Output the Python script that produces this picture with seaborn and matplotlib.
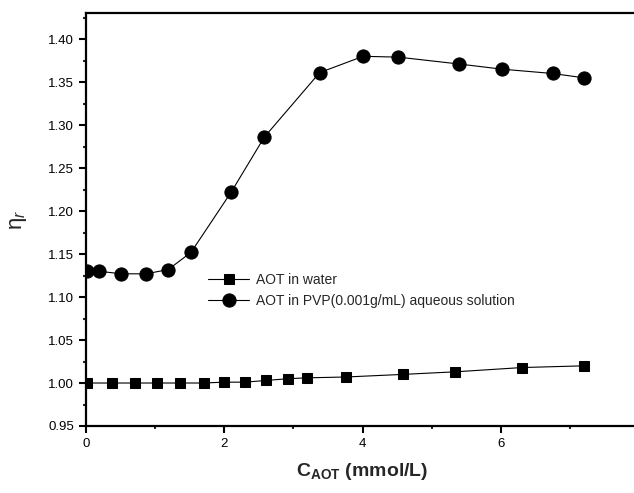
import matplotlib
matplotlib.use("Agg")
import matplotlib.pyplot as plt
import seaborn as sns
import pandas as pd
from matplotlib.ticker import MultipleLocator

water_x = [0.02, 0.37, 0.71, 1.03, 1.36, 1.70, 2.00, 2.30, 2.61, 2.92, 3.19, 3.76, 4.58, 5.34, 6.31, 7.21]
water_y = [1.000, 1.000, 1.000, 1.000, 1.000, 1.000, 1.001, 1.001, 1.003, 1.005, 1.006, 1.007, 1.010, 1.013, 1.018, 1.020]

pvp_x = [0.02, 0.19, 0.51, 0.87, 1.19, 1.52, 2.10, 2.58, 3.38, 4.01, 4.52, 5.40, 6.02, 6.75, 7.20]
pvp_y = [1.130, 1.130, 1.127, 1.127, 1.132, 1.152, 1.222, 1.286, 1.361, 1.380, 1.379, 1.371, 1.365, 1.360, 1.355]

labels = ["AOT in water", "AOT in PVP(0.001g/mL) aqueous solution"]

sns.set_style("ticks")
plt.rcParams['font.family'] = ['Liberation Sans', 'DejaVu Sans']
plt.rcParams['mathtext.fontset'] = 'custom'
plt.rcParams['mathtext.rm'] = 'Liberation Sans'
plt.rcParams['mathtext.it'] = 'Liberation Sans:italic'
plt.rcParams['mathtext.bf'] = 'Liberation Sans:bold'

fig = plt.figure(figsize=(6.34, 4.93), dpi=100)
ax = fig.add_axes([86/634, 67/493, (639-86)/634, (426-13.3)/493])

df_w = pd.DataFrame({"x": water_x, "y": water_y})
df_p = pd.DataFrame({"x": pvp_x, "y": pvp_y})

sns.lineplot(data=df_w, x="x", y="y", ax=ax, color="black", marker="s", markersize=7.5,
             linewidth=0.8, markeredgecolor="black", sort=False, label=labels[0])
sns.lineplot(data=df_p, x="x", y="y", ax=ax, color="black", marker="o", markersize=9.5,
             linewidth=0.8, markeredgecolor="black", sort=False, label=labels[1])

ax.set_xlim(0, 8)
ax.set_ylim(0.95, 1.43)
ax.xaxis.set_major_locator(MultipleLocator(2))
ax.xaxis.set_minor_locator(MultipleLocator(1))
ax.yaxis.set_minor_locator(MultipleLocator(0.025))
ax.set_yticks([0.95, 1.00, 1.05, 1.10, 1.15, 1.20, 1.25, 1.30, 1.35, 1.40])
ax.set_yticklabels(["0.95", "1.00", "1.05", "1.10", "1.15", "1.20", "1.25", "1.30", "1.35", "1.40"])

for s in ax.spines.values():
    s.set_linewidth(1.6)
    s.set_color("black")
ax.tick_params(which="major", direction="out", length=5, width=1.5, labelsize=9.5, colors="black")
ax.tick_params(which="minor", direction="out", length=2.5, width=1.5)
ax.tick_params(top=False, right=False, which="both")

ax.set_xlabel(r"$\mathbf{C}_{\mathbf{AOT}}$ (mmol/L)", fontsize=14, fontweight="bold", labelpad=8)
ax.set_ylabel(r"$\mathrm{\eta}_r$", fontsize=16, labelpad=14)

leg = ax.legend(loc="upper left", bbox_to_anchor=(0.21, 0.385), frameon=False, fontsize=10,
                handlelength=3.0, handletextpad=0.45, labelspacing=0.5, borderaxespad=0)

fig.savefig("out.png", dpi=100)
